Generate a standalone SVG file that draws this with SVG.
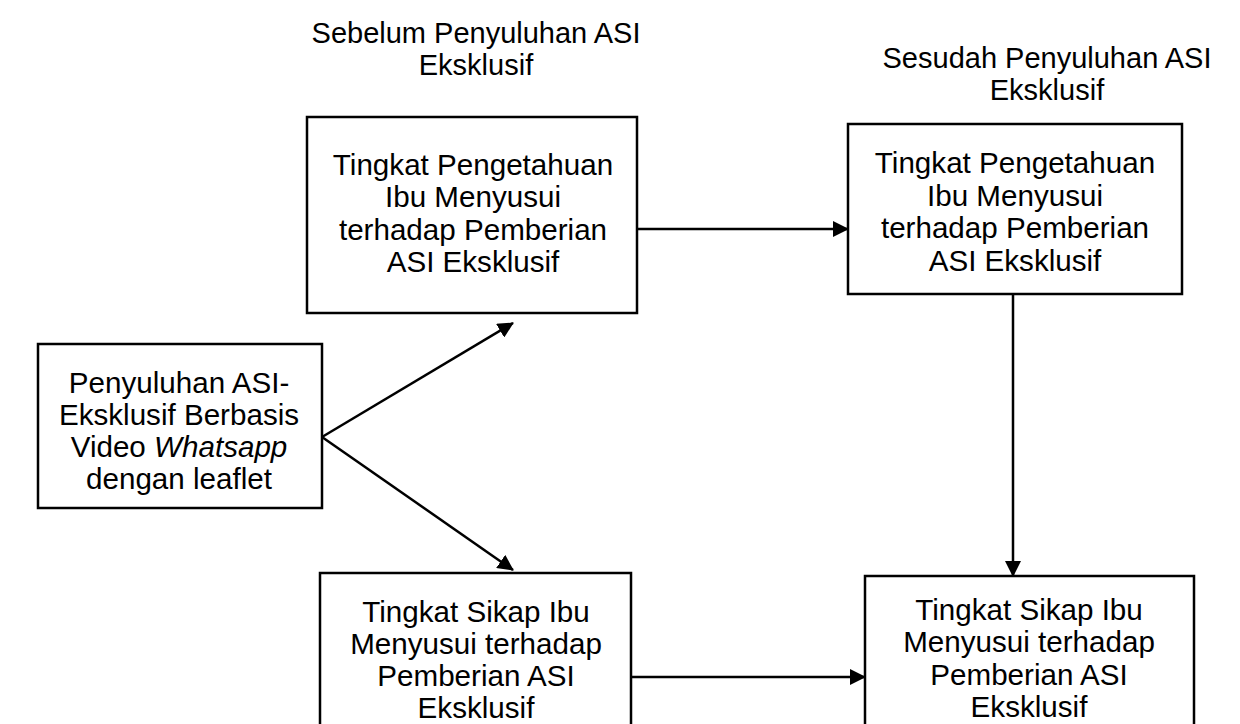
<svg xmlns="http://www.w3.org/2000/svg" width="1240" height="724" viewBox="0 0 1240 724">
<style>
.box{fill:#fff;stroke:#000;stroke-width:2.5}
.t{font-family:"Liberation Sans",Arial,sans-serif;font-size:29.6px;fill:#000;text-anchor:middle}
.h{font-family:"Liberation Sans",Arial,sans-serif;font-size:29px;fill:#000;text-anchor:middle}
.c{stroke:#000;stroke-width:2.5;fill:none;marker-end:url(#ah)}
</style>
<defs>
<marker id="ah" viewBox="0 0 16 16" refX="15" refY="8" markerWidth="16" markerHeight="16" markerUnits="userSpaceOnUse" orient="auto">
<path d="M0,0 L16,8 L0,16 z" fill="#000"/>
</marker>
</defs>
<rect width="1240" height="724" fill="#fff"/>
<g id="header-before">
<text class="h" x="476" y="43">Sebelum Penyuluhan ASI</text>
<text class="h" x="476" y="75">Eksklusif</text>
</g>
<g id="header-after">
<text class="h" x="1047" y="68">Sesudah Penyuluhan ASI</text>
<text class="h" x="1047" y="100">Eksklusif</text>
</g>
<g id="connectors">
<line class="c" x1="322" y1="437" x2="513" y2="323"/>
<line class="c" x1="322" y1="437" x2="513" y2="570"/>
<line class="c" x1="637" y1="229" x2="848" y2="229"/>
<line class="c" x1="1013" y1="294" x2="1013" y2="576"/>
<line class="c" x1="631" y1="677" x2="865" y2="677"/>
</g>
<g id="node-penyuluhan">
<rect class="box" x="38" y="344" width="284" height="164"/>
<text class="t" x="179" y="393">Penyuluhan ASI-</text>
<text class="t" x="179" y="425">Eksklusif Berbasis</text>
<text class="t" x="179" y="457">Video <tspan font-style="italic">Whatsapp</tspan></text>
<text class="t" x="179" y="489">dengan leaflet</text>
</g>
<g id="node-pengetahuan-sebelum">
<rect class="box" x="307" y="117" width="330" height="196"/>
<text class="t" x="473" y="175">Tingkat Pengetahuan</text>
<text class="t" x="473" y="207">Ibu Menyusui</text>
<text class="t" x="473" y="240">terhadap Pemberian</text>
<text class="t" x="473" y="272">ASI Eksklusif</text>
</g>
<g id="node-pengetahuan-sesudah">
<rect class="box" x="848" y="124" width="334" height="170"/>
<text class="t" x="1015" y="173">Tingkat Pengetahuan</text>
<text class="t" x="1015" y="206">Ibu Menyusui</text>
<text class="t" x="1015" y="238">terhadap Pemberian</text>
<text class="t" x="1015" y="271">ASI Eksklusif</text>
</g>
<g id="node-sikap-sebelum">
<rect class="box" x="320" y="573" width="311" height="170"/>
<text class="t" x="476" y="622">Tingkat Sikap Ibu</text>
<text class="t" x="476" y="654">Menyusui terhadap</text>
<text class="t" x="476" y="686">Pemberian ASI</text>
<text class="t" x="476" y="718">Eksklusif</text>
</g>
<g id="node-sikap-sesudah">
<rect class="box" x="865" y="576" width="329" height="170"/>
<text class="t" x="1029" y="620">Tingkat Sikap Ibu</text>
<text class="t" x="1029" y="652">Menyusui terhadap</text>
<text class="t" x="1029" y="685">Pemberian ASI</text>
<text class="t" x="1029" y="717">Eksklusif</text>
</g>
</svg>
